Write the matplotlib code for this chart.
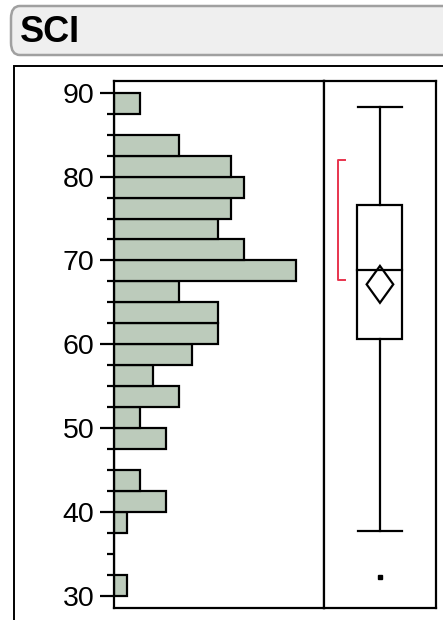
import matplotlib
matplotlib.use("Agg")
import matplotlib.pyplot as plt
from matplotlib.patches import FancyBboxPatch, Rectangle, Polygon
import numpy as np

plt.rcParams['font.family'] = ['Liberation Sans', 'DejaVu Sans']

title = "SCI"
bin_low = [30, 32.5, 35, 37.5, 40, 42.5, 45, 47.5, 50, 52.5, 55, 57.5, 60,
           62.5, 65, 67.5, 70, 72.5, 75, 77.5, 80, 82.5, 85, 87.5]
counts = [1, 0, 0, 1, 4, 2, 0, 4, 2, 5, 3, 6, 8, 8, 5, 14, 10, 8, 9, 10, 9, 5, 0, 2]
bin_width = 2.5
major_ticks = [30, 40, 50, 60, 70, 80, 90]

whisker_low = 37.8
q1 = 60.6
median = 68.9
q3 = 76.65
whisker_high = 88.3
mean = 67.15
mean_ci = 2.2
outliers = [32.3]
shortest_half = [67.65, 81.95]

W, H = 443, 620
fig = plt.figure(figsize=(W / 100, H / 100), dpi=100)

def fx(px):
    return px / W

def fy(py):
    return 1 - py / H

# title bar
fig.patches.append(FancyBboxPatch((fx(11), fy(55)), fx(460) - fx(11), fy(6) - fy(55),
                                  boxstyle="round,pad=0,rounding_size=0.02",
                                  transform=fig.transFigure, facecolor="#efefef",
                                  edgecolor="#a0a0a0", linewidth=1.8, figure=fig))
fig.text(fx(20), fy(42), title, fontsize=26, fontweight='bold', ha='left',
         va='baseline', color='black')

# outer frame
fig.patches.append(Rectangle((fx(14), fy(640)), fx(460) - fx(14), fy(66) - fy(640),
                             transform=fig.transFigure, facecolor='none',
                             edgecolor='black', linewidth=1.4, figure=fig))

top_px, bot_px = 80.7, 607.7
left_px, mid_px, right_px = 114, 323.5, 435.5
ylim = (28.6, 91.43)
lw = 1.6

ax = fig.add_axes([fx(left_px), fy(bot_px), fx(mid_px) - fx(left_px), fy(top_px) - fy(bot_px)])
ax.barh(bin_low, counts, height=bin_width, align='edge', color='#bccbbb',
        edgecolor='black', linewidth=lw)
ax.set_ylim(*ylim)
ax.set_xlim(0, (mid_px - left_px) / 13.0)
ax.set_xticks([])
ax.set_yticks(major_ticks)
ax.set_yticklabels([str(t) for t in major_ticks])
ax.set_yticks(np.arange(30, 91, 2.5), minor=True)
ax.tick_params(axis='y', which='major', length=10, width=lw, labelsize=20.5, pad=4)
ax.tick_params(axis='y', which='minor', length=5, width=lw)
for s in ax.spines.values():
    s.set_linewidth(lw)
    s.set_color('black')

bx = fig.add_axes([fx(mid_px), fy(bot_px), fx(right_px) - fx(mid_px), fy(top_px) - fy(bot_px)])
bx.set_xlim(0, 1)
bx.set_ylim(*ylim)
bx.set_xticks([])
bx.set_yticks([])
for s in bx.spines.values():
    s.set_linewidth(lw)
    s.set_color('black')

c = 0.504
bx.add_patch(Rectangle((0.296, q1), 0.408, q3 - q1, facecolor='none', edgecolor='black', linewidth=lw))
bx.plot([0.296, 0.704], [median, median], color='black', lw=lw)
bx.plot([c, c], [q3, whisker_high], color='black', lw=lw)
bx.plot([c, c], [whisker_low, q1], color='black', lw=lw)
bx.plot([0.305, 0.698], [whisker_high, whisker_high], color='black', lw=lw)
bx.plot([0.305, 0.698], [whisker_low, whisker_low], color='black', lw=lw)
bx.add_patch(Polygon([[c, mean + mean_ci], [0.623, mean], [c, mean - mean_ci], [0.385, mean]],
                     closed=True, facecolor='none', edgecolor='black', linewidth=lw))
bx.plot([c] * len(outliers), outliers, 's', color='black', markersize=3)
bx.plot([0.192, 0.132, 0.132, 0.192], [shortest_half[1], shortest_half[1], shortest_half[0], shortest_half[0]],
        color='#e8344e', lw=1.4)

fig.savefig("out.png", dpi=100)
